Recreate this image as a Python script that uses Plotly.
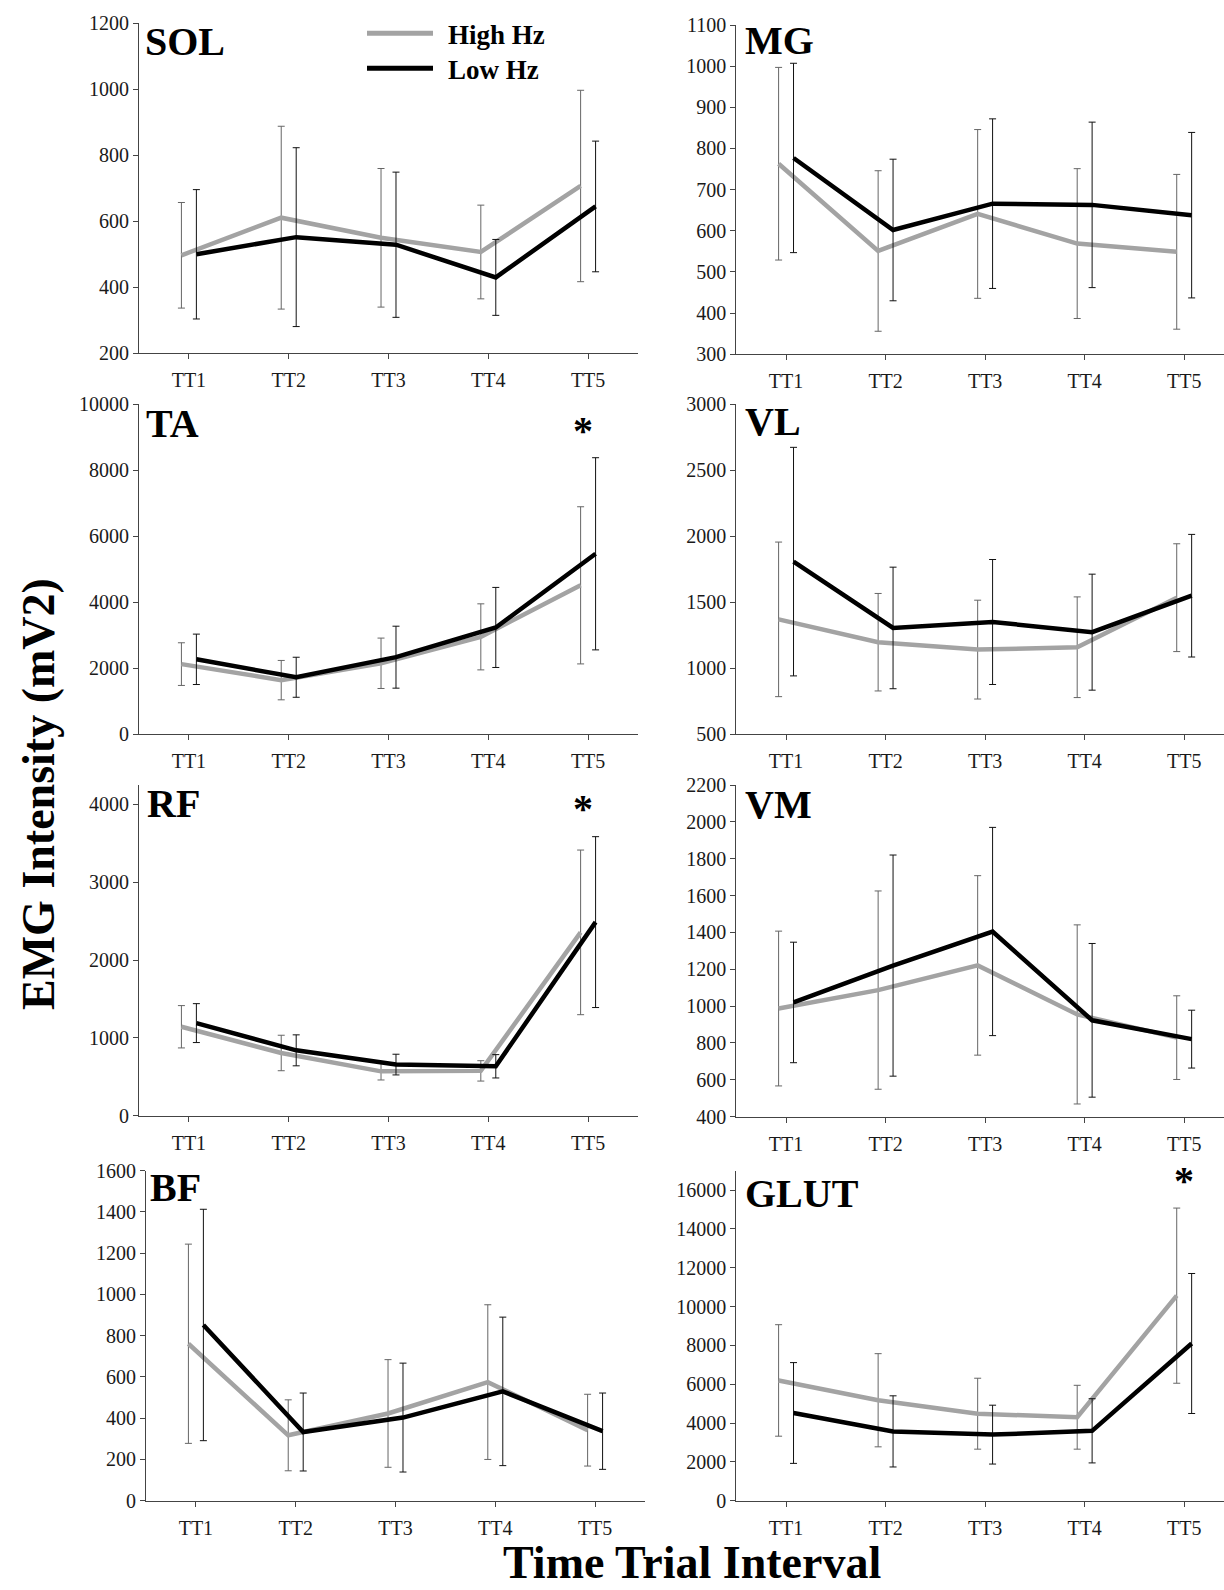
import plotly.graph_objects as go

W, H = 1224, 1590

categories = ["TT1", "TT2", "TT3", "TT4", "TT5"]
series_names = ["High Hz", "Low Hz"]
muscles = ["SOL", "MG", "TA", "VL", "RF", "VM", "BF", "GLUT"]

sol_high = [497, 611, 550, 507, 707]
sol_high_sd = [160, 277, 210, 142, 290]
sol_low = [500, 552, 529, 430, 645]
sol_low_sd = [196, 271, 220, 115, 198]

mg_high = [763, 551, 641, 569, 549]
mg_high_sd = [234, 195, 205, 182, 188]
mg_low = [777, 602, 666, 663, 638]
mg_low_sd = [230, 172, 206, 201, 201]

ta_high = [2125, 1640, 2150, 2950, 4510]
ta_high_sd = [646, 596, 763, 1000, 2379]
ta_low = [2270, 1727, 2335, 3235, 5465]
ta_low_sd = [763, 606, 938, 1212, 2909]

vl_high = [1370, 1197, 1141, 1159, 1534]
vl_high_sd = [585, 369, 374, 381, 408]
vl_low = [1807, 1305, 1350, 1273, 1549]
vl_low_sd = [865, 460, 473, 439, 464]

rf_high = [1143, 806, 570, 576, 2356]
rf_high_sd = [272, 228, 111, 131, 1058]
rf_low = [1190, 840, 657, 635, 2488]
rf_low_sd = [250, 199, 133, 150, 1098]

vm_high = [987, 1087, 1221, 955, 829]
vm_high_sd = [420, 538, 487, 486, 227]
vm_low = [1020, 1220, 1405, 923, 821]
vm_low_sd = [327, 600, 565, 417, 157]

bf_high = [761, 317, 423, 575, 342]
bf_high_sd = [483, 172, 261, 375, 174]
bf_low = [852, 333, 403, 530, 337]
bf_low_sd = [561, 189, 264, 360, 185]

glut_high = [6195, 5175, 4482, 4300, 10563]
glut_high_sd = [2872, 2400, 1827, 1645, 4512]
glut_low = [4518, 3570, 3404, 3600, 8098]
glut_low_sd = [2596, 1833, 1516, 1653, 3606]

# significant difference marker: muscle -> category index
significant = {"TA": 4, "RF": 4, "GLUT": 4}

data = {
    "SOL": (sol_high, sol_high_sd, sol_low, sol_low_sd),
    "MG": (mg_high, mg_high_sd, mg_low, mg_low_sd),
    "TA": (ta_high, ta_high_sd, ta_low, ta_low_sd),
    "VL": (vl_high, vl_high_sd, vl_low, vl_low_sd),
    "RF": (rf_high, rf_high_sd, rf_low, rf_low_sd),
    "VM": (vm_high, vm_high_sd, vm_low, vm_low_sd),
    "BF": (bf_high, bf_high_sd, bf_low, bf_low_sd),
    "GLUT": (glut_high, glut_high_sd, glut_low, glut_low_sd),
}

# layout (pixel geometry)
yranges = {"SOL": (200, 1200, 200), "MG": (300, 1100, 100), "TA": (0, 10000, 2000),
           "VL": (500, 3000, 500), "RF": (0, 4250, 1000), "VM": (400, 2200, 200),
           "BF": (0, 1600, 200), "GLUT": (0, 17000, 2000)}
# (left px, right px, top px, bottom px, xmax)
boxes = {"SOL": (139, 638, 23.3, 353.3, 4.5), "MG": (736.3, 1224, 25, 354.3, 4.4),
         "TA": (139, 638, 404, 734.3, 4.5), "VL": (736.3, 1224, 404, 734.3, 4.4),
         "RF": (139, 638, 785, 1115.7, 4.5), "VM": (736.3, 1224, 785, 1116.7, 4.4),
         "BF": (146, 645, 1170.7, 1500.7, 4.5), "GLUT": (736.3, 1224, 1170.7, 1500.7, 4.4)}
label_pos = {"SOL": (143, 41.7), "MG": (743, 41), "TA": (144, 423), "VL": (743, 421),
             "RF": (145, 803), "VM": (743, 804), "BF": (148, 1187), "GLUT": (743, 1193)}
# asterisk: (x offset in categories, box top px)
star_pos = {"TA": (-0.05, 406), "RF": (-0.05, 784), "GLUT": (0.0, 1156)}

FONT = "Liberation Serif, Times New Roman, serif"
GRAY = "#a3a3a3"
BLACK = "#000000"
OFF = 0.075

fig = go.Figure()
annotations = []
shapes = []

def px_x(p):
    return p / W

def px_y(p):
    return 1 - p / H

for i, m in enumerate(muscles):
    n = i + 1
    xa = "x" if n == 1 else f"x{n}"
    ya = "y" if n == 1 else f"y{n}"
    hi, hisd, lo, losd = data[m]
    idx = list(range(len(categories)))
    fig.add_trace(go.Scatter(
        x=[k - OFF for k in idx], y=hi, mode="lines", name=series_names[0],
        line=dict(color=GRAY, width=4.5),
        error_y=dict(type="data", array=hisd, visible=True, color="#666666", thickness=1, width=3.5),
        xaxis=xa, yaxis=ya, showlegend=False))
    fig.add_trace(go.Scatter(
        x=[k + OFF for k in idx], y=lo, mode="lines", name=series_names[1],
        line=dict(color=BLACK, width=4.5),
        error_y=dict(type="data", array=losd, visible=True, color="#111111", thickness=1, width=3.5),
        xaxis=xa, yaxis=ya, showlegend=False))

    l, r, t, b, xmax = boxes[m]
    y0, y1, dt = yranges[m]
    axcommon = dict(showgrid=False, zeroline=False, showline=True, linecolor="#444444",
                    linewidth=1.2, ticks="outside", ticklen=5, tickwidth=1, tickcolor="#444444",
                    automargin=False,
                    tickfont=dict(family=FONT, size=20, color="#1a1a1a"))
    fig.update_layout(**{
        ("xaxis" if n == 1 else f"xaxis{n}"): dict(
            domain=[px_x(l), px_x(r)], anchor=ya, range=[-0.5, xmax],
            tickmode="array", tickvals=idx, ticktext=categories,
            ticklabelstandoff=4, **axcommon),
        ("yaxis" if n == 1 else f"yaxis{n}"): dict(
            domain=[px_y(b), px_y(t)], anchor=xa, range=[y0, y1],
            tickmode="linear", tick0=y0, dtick=dt, tickformat="d", **axcommon),
    })
    lx, ly = label_pos[m]
    annotations.append(dict(text=f"<b>{m}</b>", x=px_x(lx), y=px_y(ly), xref="paper", yref="paper",
                            xanchor="left", yanchor="middle", showarrow=False,
                            font=dict(family=FONT, size=40, color="black")))
    if m in significant:
        dx, top = star_pos[m]
        annotations.append(dict(text="<b>*</b>", x=significant[m] + dx, y=px_y(top),
                                xref=xa, yref="paper", xanchor="center", yanchor="top",
                                showarrow=False, font=dict(family=FONT, size=40, color="black")))

# legend (manual)
for k, (c, yy) in enumerate([(GRAY, 33.3), (BLACK, 68.3)]):
    shapes.append(dict(type="line", xref="paper", yref="paper", x0=px_x(367), x1=px_x(433),
                       y0=px_y(yy), y1=px_y(yy), line=dict(color=c, width=5)))
    annotations.append(dict(text=f"<b>{series_names[k]}</b>", x=px_x(446), y=px_y(yy + 1.5),
                            xref="paper", yref="paper", xanchor="left", yanchor="middle",
                            showarrow=False, font=dict(family=FONT, size=27, color="black")))

annotations.append(dict(text="<b>EMG Intensity (mV2)</b>", x=px_x(38), y=px_y(794), xref="paper",
                        yref="paper", xanchor="center", yanchor="middle", textangle=-90,
                        showarrow=False, font=dict(family=FONT, size=46, color="black")))
annotations.append(dict(text="<b>Time Trial Interval</b>", x=px_x(692), y=0, xref="paper",
                        yref="paper", xanchor="center", yanchor="bottom",
                        showarrow=False, font=dict(family=FONT, size=46, color="black")))

fig.update_layout(width=W, height=H, margin=dict(l=0, r=0, t=0, b=0, autoexpand=False),
                  paper_bgcolor="white", plot_bgcolor="white",
                  annotations=annotations, shapes=shapes, showlegend=False)

fig.write_html("out.html")
